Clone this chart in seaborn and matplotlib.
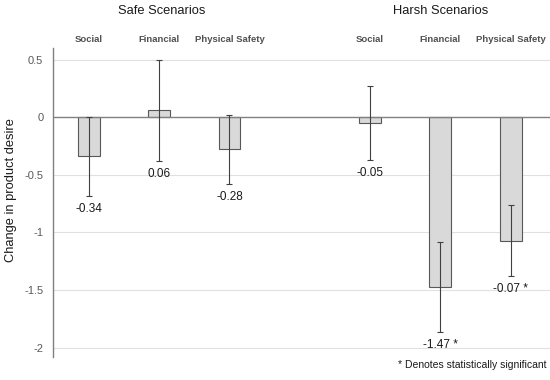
import matplotlib
matplotlib.use("Agg")
import matplotlib.pyplot as plt
import seaborn as sns
import pandas as pd

# Data
slots = ["Safe Social", "Safe Financial", "Safe Physical Safety", "gap",
         "Harsh Social", "Harsh Financial", "Harsh Physical Safety"]
categories = ["Safe Social", "Safe Financial", "Safe Physical Safety",
              "Harsh Social", "Harsh Financial", "Harsh Physical Safety"]
values = [-0.34, 0.06, -0.28, -0.05, -1.47, -1.07]
errors = [0.34, 0.44, 0.30, 0.32, 0.39, 0.31]
value_labels = ["-0.34", "0.06", "-0.28", "-0.05", "-1.47 *", "-0.07 *"]
group_labels = ["Social", "Financial", "Physical Safety"]
scenario_titles = ["Safe Scenarios", "Harsh Scenarios"]
yticks = [0.5, 0, -0.5, -1, -1.5, -2]
ytick_labels = ["0.5", "0", "-0.5", "-1", "-1.5", "-2"]

df = pd.DataFrame({"cat": categories, "val": values, "err": errors})

sns.set_style("white")
plt.rcParams["font.family"] = ["Liberation Sans", "DejaVu Sans"]

fig = plt.figure(figsize=(5.5, 3.8), dpi=100)
ax = fig.add_axes([53/550, 1-357/380, 1-53/550, (357-48)/380])

sns.barplot(data=df, x="cat", y="val", order=slots, color="#d9d9d9",
            edgecolor="#595959", linewidth=0.8, width=0.31, errorbar=None,
            saturation=1, ax=ax)

pos = {c: i for i, c in enumerate(slots)}
xs = [pos[c] for c in categories]
ax.errorbar(xs, values, yerr=errors, fmt="none", ecolor="#404040",
            elinewidth=0.8, capsize=2.5, capthick=0.8, zorder=5)

for x, v, e, lab in zip(xs, values, errors, value_labels):
    ax.text(x, v - e - 0.06, lab, ha="center", va="top", fontsize=8.5,
            color="#1a1a1a")

ax.set_ylim(-2.08, 0.6)
ax.set_xlim(-0.51, 6.56)
ax.set_yticks(yticks)
ax.set_yticklabels(ytick_labels, fontsize=8, color="#595959")
ax.set_xticks([])
ax.set_xlabel("")
ax.set_ylabel("Change in product desire", fontsize=9.3, color="#1a1a1a",
              labelpad=7)
ax.yaxis.set_label_coords(-0.073, (357-190)/309)
ax.tick_params(axis="y", length=0, pad=7)
for yt in yticks:
    if yt != 0:
        ax.axhline(yt, color="#e0e0e0", lw=0.8, zorder=0)
ax.axhline(0, color="#808080", lw=1.0, zorder=4)
for s in ["top", "right", "bottom"]:
    ax.spines[s].set_visible(False)
ax.spines["left"].set_color("#808080")
ax.spines["left"].set_linewidth(1.0)

# group labels
for x, c in zip(xs, categories):
    name = c.split(" ", 1)[1]
    fig.text(ax.transData.transform((x, 0))[0] / fig.dpi / 5.5, 1-39/380,
             name, ha="center", va="center", fontsize=6.8,
             fontweight="bold", color="#505050")

fig.text(162/550, 1-11/380, scenario_titles[0], ha="center", va="center",
         fontsize=9.3, color="#1a1a1a")
fig.text(441/550, 1-11/380, scenario_titles[1], ha="center", va="center",
         fontsize=9.3, color="#1a1a1a")
fig.text(546/550, 1-365/380, "* Denotes statistically significant",
         ha="right", va="center", fontsize=7.5, color="#1a1a1a")

fig.savefig("out.png", dpi=100)
